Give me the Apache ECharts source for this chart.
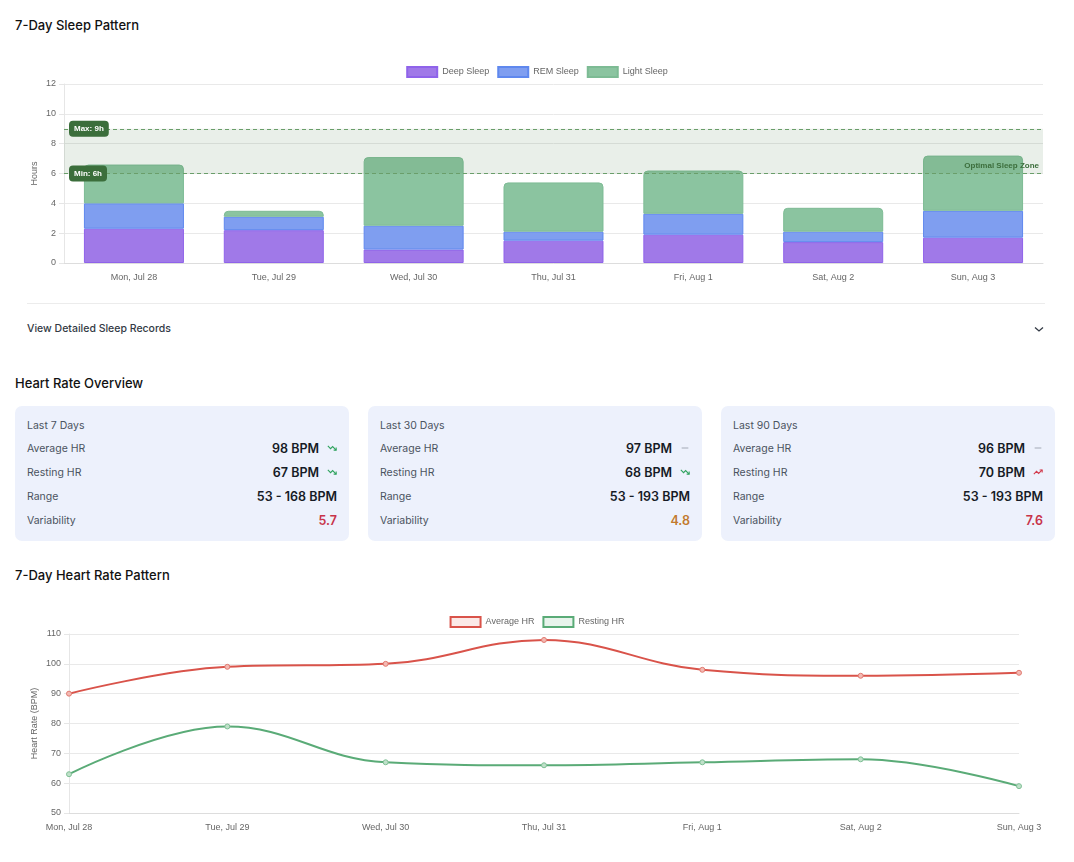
<!DOCTYPE html>
<html>
<head>
<meta charset="utf-8">
<title>Sleep & Heart Rate</title>
<script src="https://cdn.jsdelivr.net/npm/echarts@6/dist/echarts.min.js"></script>
<style>
  body { margin: 0; background: #fff; font-family: Inter, "Noto Sans", sans-serif; color: #111827; }
  .title { position: absolute; left: 15px; font-size: 13px; font-weight: 500; line-height: 16px; color: #111; }
  .sep { position: absolute; left: 27px; width: 1018px; top: 303px; height: 1px; background: #ececec; }
  .details { position: absolute; left: 27px; top: 322px; font-size: 10.5px; font-weight: 500; color: #333a45; }
  .chev { position: absolute; left: 1034px; top: 326px; }
  .card { position: absolute; top: 406px; width: 310px; height: 111px; padding: 12px; background: #edf1fc; border-radius: 7px; }
  .card .period { font-size: 10.5px; color: #4b5360; height: 14px; line-height: 14px; margin-bottom: 3px; margin-top: 1px; }
  .row { display: flex; justify-content: space-between; align-items: center; height: 24px; }
  .row .lbl { font-size: 10.5px; color: #4b5360; }
  .row .val { font-size: 12.5px; font-weight: 600; color: #161b26; display: flex; align-items: center; }
  .row .val svg { margin-left: 8px; }
</style>
</head>
<body>
<div class="title" style="top:17px">7-Day Sleep Pattern</div>
<div id="sleep" style="position:absolute;left:0;top:0;width:1074px;height:300px"></div>
<div class="sep"></div>
<div class="details">View Detailed Sleep Records</div>
<svg class="chev" width="10" height="7" viewBox="0 0 10 7"><polyline points="1,1.5 5,5 9,1.5" fill="none" stroke="#333a45" stroke-width="1.3"/></svg>

<div class="title" style="top:375px">Heart Rate Overview</div>
<div id="cards"></div>

<div class="title" style="top:567px">7-Day Heart Rate Pattern</div>
<div id="hr" style="position:absolute;left:0;top:580px;width:1074px;height:282px"></div>

<script>
// sleep data (hours)
var days = ["Mon, Jul 28", "Tue, Jul 29", "Wed, Jul 30", "Thu, Jul 31", "Fri, Aug 1", "Sat, Aug 2", "Sun, Aug 3"];
var deepSleep = [2.3, 2.2, 0.9, 1.5, 1.9, 1.4, 1.7];
var remSleep = [1.7, 0.9, 1.6, 0.6, 1.4, 0.7, 1.8];
var lightSleep = [2.6, 0.4, 4.6, 3.3, 2.9, 1.6, 3.7];
var sleepMin = 6;
var sleepMax = 9;

// heart rate data (BPM)
var avgHr = [90, 99, 100, 108, 98, 96, 97];
var restingHr = [63, 79, 67, 66, 67, 68, 59];

// overview cards
var periods = ["Last 7 Days", "Last 30 Days", "Last 90 Days"];
var avgHrText = ["98 BPM", "97 BPM", "96 BPM"];
var avgHrTrend = ["down", "flat", "flat"];
var restHrText = ["67 BPM", "68 BPM", "70 BPM"];
var restHrTrend = ["down", "down", "up"];
var rangeText = ["53 - 168 BPM", "53 - 193 BPM", "53 - 193 BPM"];
var variability = ["5.7", "4.8", "7.6"];
var variabilityColor = ["#c8344a", "#c27a2e", "#c8344a"];

var chartFont = '"Liberation Sans", Arial, sans-serif';

function trendIcon(t) {
  if (t == "down") {
    return '<svg width="10" height="10" viewBox="0 0 24 24" fill="none" stroke="#2fa35e" stroke-width="2.6"><polyline points="22 17 13.5 8.5 8.5 13.5 2 7"/><polyline points="16 17 22 17 22 11"/></svg>';
  } else if (t == "up") {
    return '<svg width="10" height="10" viewBox="0 0 24 24" fill="none" stroke="#d23a4c" stroke-width="2.6"><polyline points="22 7 13.5 15.5 8.5 10.5 2 17"/><polyline points="16 7 22 7 22 13"/></svg>';
  }
  return '<svg width="10" height="10" viewBox="0 0 24 24" fill="none" stroke="#9ca3af" stroke-width="2.2"><line x1="4" y1="12" x2="20" y2="12"/></svg>';
}

var cardLeft = [15, 368, 721];
var html = "";
for (var i = 0; i < periods.length; i++) {
  html += '<div class="card" style="left:' + cardLeft[i] + 'px">' +
    '<div class="period">' + periods[i] + '</div>' +
    '<div class="row"><span class="lbl">Average HR</span><span class="val">' + avgHrText[i] + trendIcon(avgHrTrend[i]) + '</span></div>' +
    '<div class="row"><span class="lbl">Resting HR</span><span class="val">' + restHrText[i] + trendIcon(restHrTrend[i]) + '</span></div>' +
    '<div class="row"><span class="lbl">Range</span><span class="val">' + rangeText[i] + '</span></div>' +
    '<div class="row"><span class="lbl">Variability</span><span class="val" style="color:' + variabilityColor[i] + '">' + variability[i] + '</span></div>' +
    '</div>';
}
document.getElementById("cards").innerHTML = html;

// 睡眠图表
var sleepChart = echarts.init(document.getElementById("sleep"));
sleepChart.setOption({
  animation: false,
  textStyle: { fontFamily: chartFont },
  legend: {
    top: 61,
    left: "center",
    icon: "rect",
    itemWidth: 30,
    itemHeight: 10,
    itemGap: 8,
    data: ["Deep Sleep", "REM Sleep", "Light Sleep"],
    textStyle: { fontSize: 9, color: "#666" },
  },
  grid: { left: 64, right: 31, top: 84, bottom: 37 },
  xAxis: {
    type: "category",
    data: days,
    axisLine: { lineStyle: { color: "#ddd" } },
    axisTick: { show: false },
    axisLabel: { fontSize: 9, color: "#666", margin: 10 },
  },
  yAxis: {
    type: "value",
    min: 0,
    max: 12,
    interval: 2,
    name: "Hours",
    nameLocation: "middle",
    nameGap: 25,
    nameMoveOverlap: false,
    nameTextStyle: { fontSize: 9, color: "#666" },
    axisLine: { show: true, lineStyle: { color: "#e6e6e6" } },
    axisTick: { show: true, length: 5, lineStyle: { color: "#e6e6e6" } },
    axisLabel: { fontSize: 9, color: "#666", margin: 8 },
    splitLine: { lineStyle: { color: "#e9e9e9" } },
  },
  series: [
    {
      name: "Deep Sleep",
      type: "bar",
      stack: "sleep",
      barWidth: "71.5%",
      data: deepSleep,
      itemStyle: { color: "#a079e8", borderColor: "#8f63ea", borderWidth: 1 },
    },
    {
      name: "REM Sleep",
      type: "bar",
      stack: "sleep",
      data: remSleep,
      itemStyle: { color: "#7f9ef0", borderColor: "#5f88ee", borderWidth: 1 },
    },
    {
      name: "Light Sleep",
      type: "bar",
      stack: "sleep",
      data: lightSleep,
      itemStyle: { color: "#8bc4a0", borderColor: "#7dbb94", borderWidth: 1, borderRadius: [4, 4, 0, 0] },
    },
    {
      name: "zone",
      type: "line",
      data: [],
      z: 5,
      markArea: {
        silent: true,
        z: 5,
        itemStyle: { color: "rgba(70,120,70,0.12)" },
        label: {
          position: "insideBottomRight",
          distance: 4,
          fontSize: 8,
          fontWeight: "bold",
          color: "#3c6e3c",
        },
        data: [[{ yAxis: sleepMin, name: "Optimal Sleep Zone" }, { yAxis: sleepMax }]],
      },
      markLine: {
        silent: true,
        z: 6,
        symbol: "none",
        lineStyle: { color: "#6a9e6a", type: [4, 3], width: 1 },
        label: {
          position: "insideStartTop",
          distance: [5, 0],
          verticalAlign: "middle",
          fontSize: 8,
          fontWeight: "bold",
          color: "#fff",
          backgroundColor: "#3b6e3b",
          borderRadius: 4,
          padding: [4, 5],
        },
        data: [
          { yAxis: sleepMax, label: { formatter: "Max: " + sleepMax + "h" } },
          { yAxis: sleepMin, label: { formatter: "Min: " + sleepMin + "h" } },
        ],
      },
    },
  ],
});

// 心率图表
var hrChart = echarts.init(document.getElementById("hr"));
hrChart.setOption({
  animation: false,
  textStyle: { fontFamily: chartFont },
  legend: {
    top: 31,
    left: "center",
    itemWidth: 30,
    itemHeight: 10,
    itemGap: 8,
    data: [
      { name: "Average HR", icon: "rect", itemStyle: { color: "#fbe9e7", borderColor: "#d9534a", borderWidth: 2 } },
      { name: "Resting HR", icon: "rect", itemStyle: { color: "#e8f4ec", borderColor: "#5aab77", borderWidth: 2 } },
    ],
    textStyle: { fontSize: 9, color: "#666" },
  },
  grid: { left: 69, right: 55, top: 54, bottom: 49 },
  xAxis: {
    type: "category",
    boundaryGap: false,
    data: days,
    axisLine: { lineStyle: { color: "#ddd" } },
    axisTick: { show: false },
    axisLabel: { fontSize: 9, color: "#666", margin: 10 },
  },
  yAxis: {
    type: "value",
    min: 50,
    max: 110,
    interval: 10,
    name: "Heart Rate (BPM)",
    nameLocation: "middle",
    nameGap: 30,
    nameMoveOverlap: false,
    nameTextStyle: { fontSize: 9, color: "#666" },
    axisLine: { show: true, lineStyle: { color: "#e6e6e6" } },
    axisTick: { show: true, length: 5, lineStyle: { color: "#e6e6e6" } },
    axisLabel: { fontSize: 9, color: "#666", margin: 8 },
    splitLine: { lineStyle: { color: "#e9e9e9" } },
  },
  series: [
    {
      name: "Average HR",
      type: "line",
      smooth: 0.4,
      data: avgHr,
      symbol: "circle",
      symbolSize: 5,
      lineStyle: { color: "#d9534a", width: 2 },
      itemStyle: { color: "#f3b9b3", borderColor: "#e07a70", borderWidth: 1 },
    },
    {
      name: "Resting HR",
      type: "line",
      smooth: 0.4,
      data: restingHr,
      symbol: "circle",
      symbolSize: 5,
      lineStyle: { color: "#5aab77", width: 2 },
      itemStyle: { color: "#bfe0c9", borderColor: "#7fbf95", borderWidth: 1 },
    },
  ],
});
</script>
</body>
</html>
